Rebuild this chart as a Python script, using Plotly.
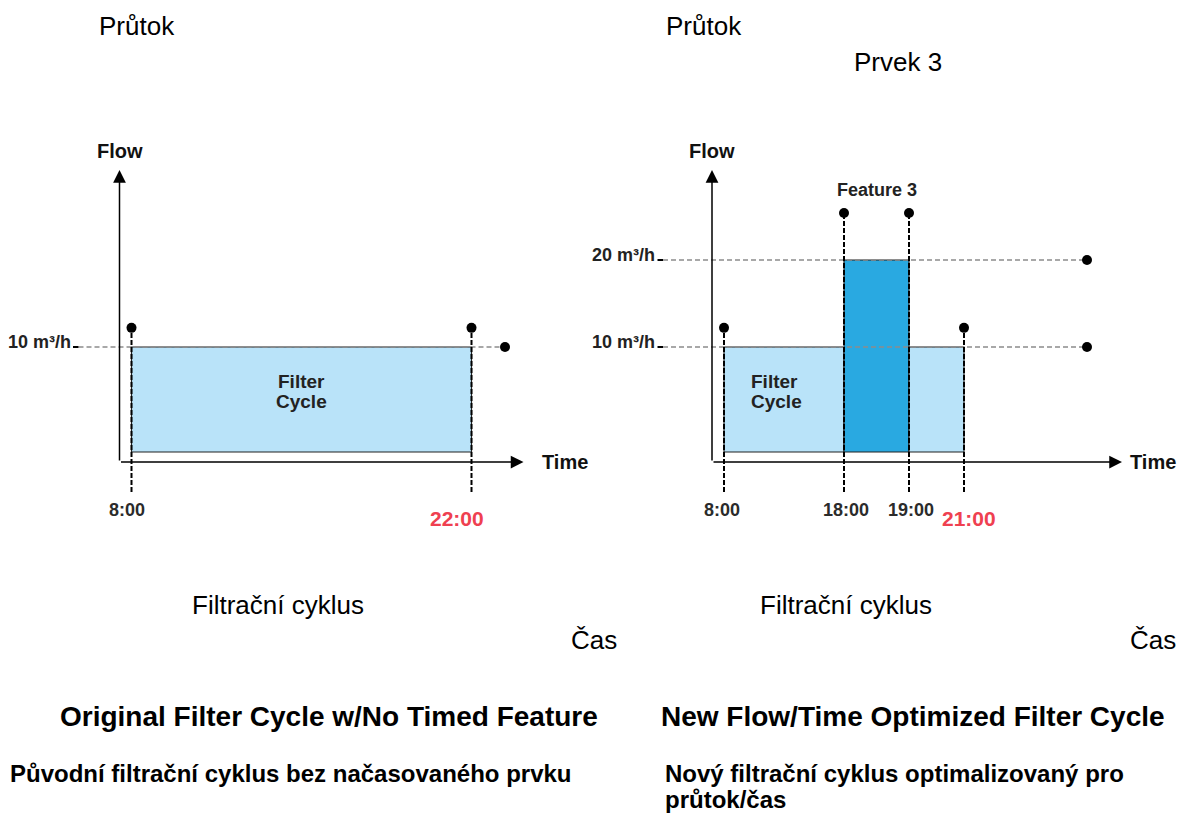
import plotly.graph_objects as go

# ---- data ----
left_times = ["8:00", "22:00"]
left_pos = [0, 34]            # schematic position of each switch time
left_flow = [10]              # flow between switch times (m3/h)
left_feature = [False]

right_times = ["8:00", "18:00", "19:00", "21:00"]
right_pos = [0, 12, 18.5, 24]
right_flow = [10, 20, 10]
right_feature = [False, True, False]

left_levels = [10]
right_levels = [10, 20]

# page is 1185x839, the browser body keeps an 8px margin
W, H = 1185, 839
OFF = 8
FW, FH = W - OFF, H - 2 * OFF

LIGHT = "#B9E3F9"
DARK = "#29A9E1"
GREY = "#8C8C8C"
RED = "#EF4050"
FONT = "Liberation Sans, Arial, sans-serif"

# schematic scale: 10 px per position unit, 8.7 px per m3/h
XS, YS, Y0 = 10.0, 8.7, 434.0
LEFT_X0, RIGHT_X0 = 131.5, 724.0

BASE = (Y0 - 452) / YS
AXIS_Y = (Y0 - 462) / YS
STEM_BOT = (Y0 - 492) / YS
AXIS_TOP = (Y0 - 170) / YS


def px(x):
    return (x - OFF) / FW


def py(y):
    return 1 - (y - OFF) / FH


def xrange_for(x0):
    return [(OFF - x0) / XS, (OFF + FW - x0) / XS]


fig = go.Figure()
annotations = []


def panel(xa, times, pos, flow, feature, levels, dash_start, dot_x, arrow_end, time_x, fc_x, fc_anchor, tick_shift):
    xref = xa
    for i, f in enumerate(flow):
        x0, x1 = pos[i], pos[i + 1]
        fig.add_trace(go.Scatter(
            x=[x0, x1, x1, x0, x0], y=[BASE, BASE, f, f, BASE],
            mode="lines", fill="toself",
            fillcolor=DARK if feature[i] else LIGHT,
            line=dict(color="#222", width=1.2),
            xaxis=xa, yaxis="y", hoverinfo="skip"))
    for lv in levels:
        fig.add_trace(go.Scatter(
            x=[dash_start, dot_x], y=[lv, lv], mode="lines",
            line=dict(color=GREY, width=1.4, dash="5px,3px"),
            xaxis=xa, yaxis="y", hoverinfo="skip"))
        fig.add_trace(go.Scatter(
            x=[dash_start - 0.55, dash_start], y=[lv, lv], mode="lines",
            line=dict(color="black", width=2),
            xaxis=xa, yaxis="y", hoverinfo="skip"))
        fig.add_trace(go.Scatter(
            x=[dot_x], y=[lv], mode="markers",
            marker=dict(color="black", size=10),
            xaxis=xa, yaxis="y", hoverinfo="skip"))
        annotations.append(dict(
            x=dash_start - 0.6, y=lv, xref=xref, yref="y", xanchor="right", yanchor="middle",
            text="<b>%d m³/h</b>" % lv, showarrow=False, yshift=5,
            font=dict(family=FONT, size=18, color="#222")))
    for i, p in enumerate(pos):
        adj = [j for j in (i - 1, i) if 0 <= j < len(flow)]
        top = max(flow[j] for j in adj)
        feat = any(feature[j] for j in adj)
        top = top + (5.4 if feat else 2.2)
        fig.add_trace(go.Scatter(
            x=[p, p], y=[STEM_BOT, top], mode="lines",
            line=dict(color="black", width=2, dash="5px,2px"),
            xaxis=xa, yaxis="y", hoverinfo="skip"))
        fig.add_trace(go.Scatter(
            x=[p], y=[top], mode="markers",
            marker=dict(color="black", size=10),
            xaxis=xa, yaxis="y", hoverinfo="skip"))
        last = i == len(pos) - 1
        annotations.append(dict(
            x=p, y=(Y0 - 518) / YS if last else (Y0 - 510) / YS, xref=xref, yref="y",
            text="<b>%s</b>" % times[i], showarrow=False, xshift=tick_shift[i],
            font=dict(family=FONT, size=21 if last else 18, color=RED if last else "#2B2B2B")))
    annotations.append(dict(
        x=-1.2, y=AXIS_TOP, ax=-1.2, ay=AXIS_Y, xref=xref, yref="y", axref=xref, ayref="y",
        showarrow=True, arrowhead=2, arrowsize=1.7, arrowwidth=1.5, arrowcolor="black", text=""))
    annotations.append(dict(
        x=arrow_end, y=AXIS_Y, ax=-1.2, ay=AXIS_Y, xref=xref, yref="y", axref=xref, ayref="y",
        showarrow=True, arrowhead=2, arrowsize=1.7, arrowwidth=1.5, arrowcolor="black", text=""))
    annotations.append(dict(
        x=time_x, y=AXIS_Y, xref=xref, yref="y", xanchor="left", text="<b>Time</b>",
        showarrow=False, font=dict(family=FONT, size=20, color="#111")))
    annotations.append(dict(
        x=-1.2, y=(Y0 - 151) / YS, xref=xref, yref="y", text="<b>Flow</b>",
        showarrow=False, font=dict(family=FONT, size=20, color="#111")))
    for k, word in enumerate(["Filter", "Cycle"]):
        annotations.append(dict(
            x=fc_x, y=(Y0 - 381 - 20 * k) / YS, xref=xref, yref="y", xanchor=fc_anchor,
            text="<b>%s</b>" % word, showarrow=False,
            font=dict(family=FONT, size=19, color="#222")))
    for i, f in enumerate(feature):
        if f:
            annotations.append(dict(
                x=(pos[i] + pos[i + 1]) / 2, y=(Y0 - 190) / YS, xref=xref, yref="y",
                text="<b>Feature 3</b>", showarrow=False,
                font=dict(family=FONT, size=18, color="#222")))


panel("x", left_times, left_pos, left_flow, left_feature, left_levels,
      -5.3, 37.35, 39.2, 40.8, 17, "center", [-5, -15])
panel("x2", right_times, right_pos, right_flow, right_feature, right_levels,
      -6.1, 36.3, 39.8, 40.4, 2.5, "left", [-2, 2, 2, 5])


def text(x, y, s, size, anchor="left", bold=False):
    annotations.append(dict(
        x=px(x), y=py(y), xref="paper", yref="paper", xanchor=anchor, yanchor="middle",
        text="<b>%s</b>" % s if bold else s, showarrow=False, align="left",
        font=dict(family=FONT, size=size, color="black")))


text(97, 26, "Průtok", 26)
text(664, 26, "Průtok", 26)
text(852, 62, "Prvek 3", 26)
text(190, 605, "Filtrační cyklus", 26)
text(758, 605, "Filtrační cyklus", 26)
text(569, 640, "Čas", 26)
text(1128, 640, "Čas", 26)
text(600, 716, "Original Filter Cycle w/No Timed Feature", 28, anchor="right", bold=True)
text(659, 716, "New Flow/Time Optimized Filter Cycle", 28, bold=True)
text(8, 773, "Původní filtrační cyklus bez načasovaného prvku", 24, bold=True)
text(663, 773, "Nový filtrační cyklus optimalizovaný pro", 24, bold=True)
text(663, 799, "průtok/čas", 24, bold=True)

fig.update_layout(
    width=FW, height=FH,
    margin=dict(l=0, r=0, t=0, b=0),
    paper_bgcolor="white", plot_bgcolor="white",
    showlegend=False,
    xaxis=dict(domain=[0, 1], range=xrange_for(LEFT_X0), visible=False, fixedrange=True),
    xaxis2=dict(domain=[0, 1], range=xrange_for(RIGHT_X0), visible=False, overlaying="x", fixedrange=True),
    yaxis=dict(domain=[0, 1], range=[(Y0 - OFF - FH) / YS, (Y0 - OFF) / YS], visible=False, fixedrange=True),
    annotations=annotations,
)

fig.write_html("out.html")
